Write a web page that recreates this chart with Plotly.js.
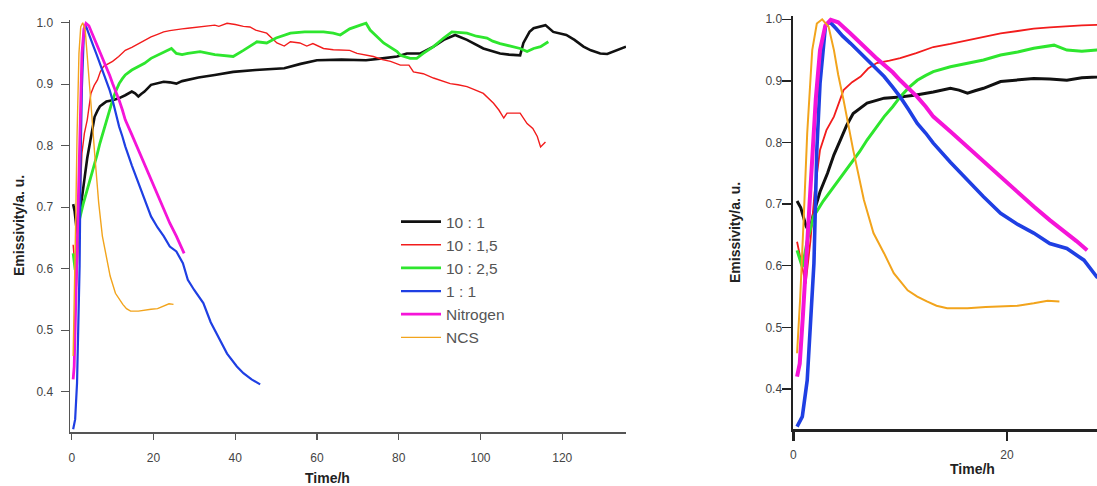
<!DOCTYPE html>
<html>
<head>
<meta charset="utf-8">
<script src="https://cdn.plot.ly/plotly-3.0.1.min.js"></script>
<style>
  html, body { margin: 0; padding: 0; background: #fff; }
  #chart { width: 1097px; height: 486px; }
</style>
</head>
<body>
<div id="chart"></div>
<script>
// ---- Data ----
const seriesNames = ["10 : 1", "10 : 1,5", "10 : 2,5", "1 : 1", "Nitrogen", "NCS"];

const blackT = [0.35, 0.7, 1.2, 1.5, 1.9, 2.5, 3.2, 3.8, 4.4, 5.0, 5.6, 6.3, 6.9, 7.7, 8.5, 10, 11.5, 13.1, 14.7, 15.5, 16.3, 17.0, 17.8, 19.4, 21, 22.5, 24, 25.6, 27, 28.4, 31, 35, 39.5, 45, 52, 56, 60, 66, 72, 76, 79.6, 82, 85.3, 88.5, 91, 93.8, 96.7, 100.7, 104.8, 107, 109.7, 110.5, 112, 113, 115.9, 117.8, 121, 123, 125.2, 127, 129.3, 131, 132.5, 134, 135.6];
const blackV = [0.705, 0.694, 0.664, 0.655, 0.685, 0.72, 0.75, 0.78, 0.804, 0.828, 0.847, 0.857, 0.864, 0.868, 0.872, 0.874, 0.877, 0.882, 0.888, 0.885, 0.88, 0.884, 0.888, 0.899, 0.902, 0.904, 0.903, 0.901, 0.905, 0.907, 0.911, 0.915, 0.92, 0.923, 0.926, 0.933, 0.939, 0.94, 0.939, 0.942, 0.945, 0.95, 0.95, 0.961, 0.972, 0.98, 0.972, 0.958, 0.95, 0.948, 0.947, 0.967, 0.985, 0.991, 0.996, 0.985, 0.98, 0.972, 0.961, 0.955, 0.95, 0.949, 0.953, 0.956, 0.961];

const redT = [0.35, 0.8, 1.15, 1.6, 2.0, 2.5, 3.1, 3.8, 4.7, 5.5, 6.3, 7.0, 7.8, 9, 10, 11.5, 13.1, 14.7, 16.3, 17.8, 19.4, 21, 22.5, 24, 25.6, 27, 28.4, 31.4, 33, 35, 36, 38, 40, 42, 43.6, 45, 47.7, 49.3, 50.2, 52, 53.5, 55.8, 57.5, 59, 61.6, 64, 68, 69.8, 72, 73.8, 76, 78, 80.4, 82.5, 83.6, 86, 88.5, 90.5, 92.6, 94.5, 96.7, 98.5, 100.7, 103.2, 104.5, 105.7, 106.5, 109.7, 111.4, 112.8, 113.9, 114.7, 115.9];
const redV = [0.639, 0.60, 0.571, 0.64, 0.72, 0.788, 0.82, 0.842, 0.885, 0.898, 0.907, 0.92, 0.929, 0.933, 0.937, 0.945, 0.955, 0.96, 0.966, 0.972, 0.977, 0.981, 0.985, 0.987, 0.988, 0.99, 0.991, 0.993, 0.995, 0.996, 0.994, 0.999, 0.997, 0.994, 0.993, 0.988, 0.983, 0.972, 0.967, 0.962, 0.969, 0.967, 0.962, 0.966, 0.958, 0.956, 0.955, 0.95, 0.947, 0.945, 0.94, 0.937, 0.931, 0.931, 0.92, 0.917, 0.91, 0.906, 0.901, 0.899, 0.896, 0.891, 0.885, 0.869, 0.858, 0.845, 0.853, 0.853, 0.836, 0.828, 0.815, 0.798, 0.806];

const greenT = [0.35, 0.84, 1.3, 1.9, 2.8, 3.8, 4.6, 5.4, 6.2, 6.9, 7.7, 8.5, 9.3, 10, 10.8, 11.6, 12.4, 13.1, 14.7, 16.3, 17.8, 19.4, 21, 22.5, 23.5, 24.4, 25.6, 27, 28.4, 31.4, 35, 39.5, 42, 45.3, 47.7, 50, 53.5, 57, 61.6, 64, 65.7, 68, 70.6, 72, 73, 76.3, 79.6, 80.4, 82.8, 84.4, 86, 88.5, 91, 93, 96.7, 99, 101.6, 103, 104.8, 107, 109.7, 111.4, 113, 114.7, 116.6];
const greenV = [0.625, 0.598, 0.64, 0.68, 0.705, 0.728, 0.747, 0.766, 0.785, 0.804, 0.823, 0.842, 0.858, 0.874, 0.889, 0.901, 0.909, 0.915, 0.923, 0.929, 0.934, 0.942, 0.947, 0.953, 0.955, 0.958, 0.95, 0.948, 0.95, 0.953, 0.948, 0.945, 0.955, 0.969, 0.967, 0.975, 0.983, 0.985, 0.985, 0.983, 0.98, 0.99, 0.996, 0.999, 0.988, 0.967, 0.953, 0.947, 0.942, 0.942, 0.95, 0.961, 0.975, 0.985, 0.983, 0.978, 0.975, 0.97, 0.966, 0.962, 0.958, 0.953, 0.958, 0.961, 0.969];

const blueT = [0.35, 0.84, 1.3, 1.6, 1.93, 2.2, 2.5, 3.0, 3.4, 4.0, 4.6, 5.35, 6.1, 6.9, 7.7, 8.5, 9.3, 10, 10.8, 11.6, 12.4, 13.1, 14.7, 16.3, 17.8, 19.4, 21, 22.5, 24, 25.6, 27.2, 28.4, 30, 32.2, 34, 36.3, 38, 40.4, 42, 44, 46.1];
const blueV = [0.339, 0.355, 0.414, 0.496, 0.604, 0.788, 0.896, 0.988, 0.996, 0.985, 0.973, 0.961, 0.948, 0.934, 0.921, 0.907, 0.89, 0.874, 0.853, 0.831, 0.815, 0.799, 0.768, 0.739, 0.712, 0.685, 0.667, 0.653, 0.636, 0.628, 0.609, 0.582, 0.565, 0.544, 0.513, 0.484, 0.462, 0.441, 0.43, 0.42, 0.412];

const magentaT = [0.35, 0.6, 0.9, 1.3, 1.7, 2.1, 2.5, 3.0, 3.5, 4.2, 5.35, 6.1, 6.9, 7.7, 8.5, 9.3, 10, 10.8, 11.6, 12.4, 13.1, 14.7, 16.3, 17.8, 19.4, 21, 22.5, 24, 25.6, 26.5, 27.5];
const magentaV = [0.42, 0.441, 0.52, 0.64, 0.76, 0.87, 0.95, 0.99, 0.999, 0.995, 0.977, 0.964, 0.95, 0.938, 0.926, 0.914, 0.901, 0.888, 0.874, 0.858, 0.842, 0.818, 0.793, 0.768, 0.744, 0.72, 0.696, 0.674, 0.653, 0.64, 0.625];

const orangeT = [0.35, 0.65, 0.98, 1.3, 1.77, 2.2, 2.7, 3.3, 3.8, 4.2, 4.7, 5.6, 6.6, 7.5, 8.5, 9.4, 10.7, 11.6, 12.5, 13.4, 14.4, 16.3, 18, 19.4, 21, 22.5, 23.8, 24.9];
const orangeV = [0.458, 0.55, 0.68, 0.815, 0.95, 0.993, 1.0, 0.988, 0.95, 0.91, 0.869, 0.788, 0.707, 0.653, 0.62, 0.588, 0.56, 0.55, 0.542, 0.535, 0.531, 0.531, 0.533, 0.534, 0.535, 0.539, 0.543, 0.542];

const leftXTicks = [0, 20, 40, 60, 80, 100, 120];
const rightXTicks = [0, 20];
const yTicks = [0.4, 0.5, 0.6, 0.7, 0.8, 0.9, 1.0];
const yTickText = ["0.4", "0.5", "0.6", "0.7", "0.8", "0.9", "1.0"];

// ---- Styling ----
const W = 1097, H = 486;
const px = v => v / W;
const py = v => 1 - v / H;
const FONT = "Arial, 'Liberation Sans', sans-serif";

const xs = [blackT, redT, greenT, blueT, magentaT, orangeT];
const ys = [blackV, redV, greenV, blueV, magentaV, orangeV];
const colors = ["#111111", "#f21c1c", "#2ee62e", "#1f3fe3", "#f514d8", "#f2a41c"];
const widthsL = [2.6, 1.4, 2.8, 2.2, 2.8, 1.4];
const widthsR = [3, 1.8, 3, 3.6, 4, 2];

const traces = [];
for (let i = 0; i < 6; i++) {
  traces.push({
    type: "scatter", mode: "lines", name: seriesNames[i],
    x: xs[i], y: ys[i], xaxis: "x", yaxis: "y",
    line: { color: colors[i], width: widthsL[i] }, showlegend: true
  });
}
for (let i = 0; i < 6; i++) {
  traces.push({
    type: "scatter", mode: "lines", name: seriesNames[i],
    x: xs[i], y: ys[i], xaxis: "x2", yaxis: "y2",
    line: { color: colors[i], width: widthsR[i] }, showlegend: false
  });
}

const tickFont = { family: FONT, size: 12, color: "#444" };

const layout = {
  width: W, height: H,
  margin: { l: 0, r: 0, t: 0, b: 0 },
  paper_bgcolor: "#fff", plot_bgcolor: "rgba(0,0,0,0)",
  showlegend: true,
  legend: {
    x: px(396), y: py(205), xanchor: "left", yanchor: "top",
    bgcolor: "rgba(255,255,255,0)", borderwidth: 0,
    font: { family: FONT, size: 15.5, color: "#555" },
    itemwidth: 40
  },
  xaxis: {
    domain: [px(70), px(626)], range: [-0.42, 135.6],
    showline: true, linecolor: "#555", linewidth: 1.5,
    ticks: "outside", ticklen: 6, tickwidth: 1.3, tickcolor: "#555",
    tickvals: leftXTicks, ticktext: leftXTicks.map(String),
    tickfont: tickFont, ticklabelstandoff: 8,
    showgrid: false, zeroline: false, anchor: "y"
  },
  yaxis: {
    domain: [py(432.3), py(19.6)], range: [0.334, 1.005],
    showline: true, linecolor: "#555", linewidth: 1.5,
    ticks: "outside", ticklen: 8, tickwidth: 1.3, tickcolor: "#555",
    tickvals: yTicks, ticktext: yTickText,
    tickfont: tickFont, ticklabelstandoff: 5,
    showgrid: false, zeroline: false, anchor: "x"
  },
  xaxis2: {
    domain: [px(793), 1], range: [-0.03, 28.42],
    showline: true, linecolor: "#222", linewidth: 2.5,
    ticks: "outside", ticklen: 9, tickwidth: 2.5, tickcolor: "#222",
    tickvals: rightXTicks, ticktext: rightXTicks.map(String),
    tickfont: tickFont, ticklabelstandoff: 4,
    showgrid: false, zeroline: false, anchor: "y2"
  },
  yaxis2: {
    domain: [py(429), py(16.2)], range: [0.335, 1.005],
    showline: true, linecolor: "#222", linewidth: 2.5,
    ticks: "outside", ticklen: 9, tickwidth: 1.5, tickcolor: "#222",
    tickvals: yTicks, ticktext: yTickText,
    tickfont: tickFont, ticklabelstandoff: -3,
    showgrid: false, zeroline: false, anchor: "x2"
  },
  annotations: [
    { text: "<b>Time/h</b>", xref: "paper", yref: "paper", x: px(327), y: py(478), xanchor: "center", yanchor: "middle", showarrow: false, font: { family: FONT, size: 14, color: "#222" } },
    { text: "<b>Time/h</b>", xref: "paper", yref: "paper", x: px(972), y: py(469), xanchor: "center", yanchor: "middle", showarrow: false, font: { family: FONT, size: 14, color: "#222" } },
    { text: "<b>Emissivity/a. u.</b>", xref: "paper", yref: "paper", x: px(19), y: py(226), xanchor: "center", yanchor: "middle", textangle: -90, showarrow: false, font: { family: FONT, size: 14, color: "#222" } },
    { text: "<b>Emissivity/a. u.</b>", xref: "paper", yref: "paper", x: px(735), y: py(233), xanchor: "center", yanchor: "middle", textangle: -90, showarrow: false, font: { family: FONT, size: 14, color: "#222" } }
  ]
};

Plotly.newPlot("chart", traces, layout, { staticPlot: true, displayModeBar: false });
</script>
</body>
</html>
